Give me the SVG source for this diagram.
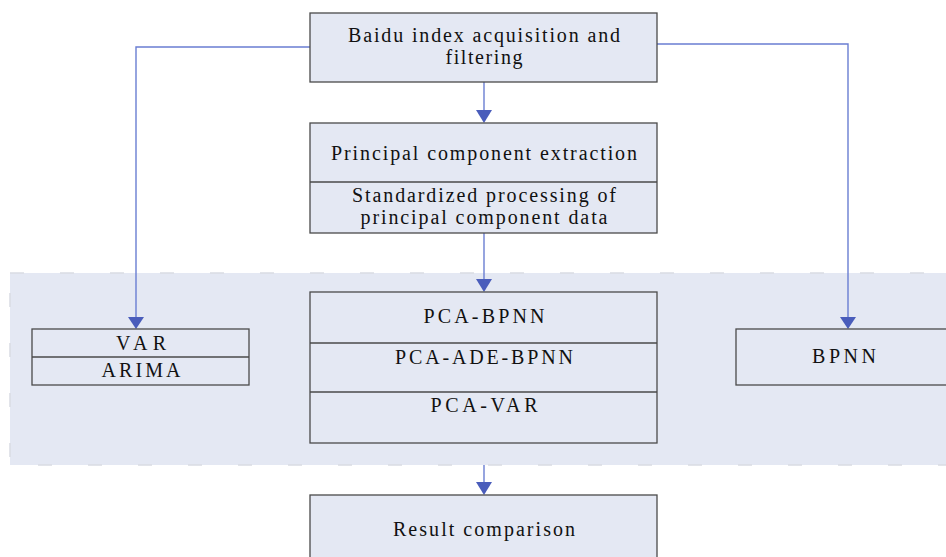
<svg xmlns="http://www.w3.org/2000/svg" width="946" height="557" viewBox="0 0 946 557">
<style>
.bx{fill:#E4E8F3;stroke:#4A4A4A;stroke-width:1.3}
.dv{stroke:#4A4A4A;stroke-width:1.3;fill:none}
text{font-family:"Liberation Serif",serif;font-size:20px;fill:#111;text-anchor:middle}
.cn{fill:none;stroke:#6A7ED2;stroke-width:1.4}
.ah{fill:#4A5DBB}
</style>
<rect width="946" height="557" fill="#FFFFFF"/>
<g id="region">
<rect x="10" y="273" width="950" height="192" fill="#E4E8F3" stroke="#D9DCE3" stroke-width="1.5" stroke-dasharray="14,36"/>
</g>
<g id="connectors">
<polyline class="cn" points="310,47 136,47 136,318"/>
<polygon class="ah" points="128,317 144,317 136,329"/>
<polyline class="cn" points="657,44 848,44 848,318"/>
<polygon class="ah" points="840,317 856,317 848,329"/>
<line class="cn" x1="484" y1="82" x2="484" y2="112"/>
<polygon class="ah" points="476,110 492,110 484,123"/>
<line class="cn" x1="484" y1="233" x2="484" y2="280"/>
<polygon class="ah" points="476,279 492,279 484,292"/>
<line class="cn" x1="484" y1="465" x2="484" y2="484"/>
<polygon class="ah" points="476,482 492,482 484,495"/>
</g>
<g id="n-baidu">
<rect class="bx" x="310" y="13" width="347" height="69"/>
<text x="484" y="42" textLength="272" lengthAdjust="spacing">Baidu index acquisition and</text>
<text x="484" y="64" textLength="77" lengthAdjust="spacing">filtering</text>
</g>
<g id="n-pca">
<rect class="bx" x="310" y="123" width="347" height="110"/>
<line class="dv" x1="310" y1="182" x2="657" y2="182"/>
<text x="484" y="160" textLength="306" lengthAdjust="spacing">Principal component extraction</text>
<text x="484" y="202" textLength="264" lengthAdjust="spacing">Standardized processing of</text>
<text x="484" y="224" textLength="247" lengthAdjust="spacing">principal component data</text>
</g>
<g id="n-var">
<rect class="bx" x="32" y="329" width="217" height="56"/>
<line class="dv" x1="32" y1="357" x2="249" y2="357"/>
<text x="141" y="350" textLength="50" lengthAdjust="spacing">VAR</text>
<text x="141" y="377" textLength="79" lengthAdjust="spacing">ARIMA</text>
</g>
<g id="n-models">
<rect class="bx" x="310" y="292" width="347" height="151"/>
<line class="dv" x1="310" y1="343" x2="657" y2="343"/>
<line class="dv" x1="310" y1="392" x2="657" y2="392"/>
<text x="484" y="323" textLength="121" lengthAdjust="spacing">PCA-BPNN</text>
<text x="484" y="364" textLength="178" lengthAdjust="spacing">PCA-ADE-BPNN</text>
<text x="484" y="412" textLength="107" lengthAdjust="spacing">PCA-VAR</text>
</g>
<g id="n-bpnn">
<rect class="bx" x="736" y="329" width="230" height="56"/>
<text x="844" y="363" textLength="64" lengthAdjust="spacing">BPNN</text>
</g>
<g id="n-result">
<rect class="bx" x="310" y="495" width="347" height="80"/>
<text x="484" y="536" textLength="182" lengthAdjust="spacing">Result comparison</text>
</g>
</svg>
